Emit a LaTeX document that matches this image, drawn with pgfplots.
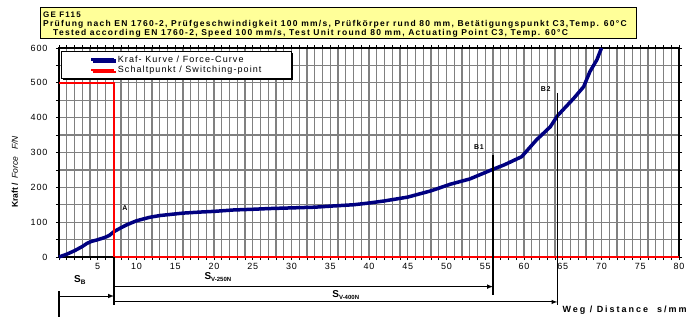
\documentclass[border=0pt]{standalone}
\usepackage{fontspec}
\setmainfont{Liberation Sans}
\newfontfamily\lsfont{Liberation Sans}[LetterSpace=10]
\newfontfamily\lgfont{Liberation Sans}[LetterSpace=12]
\newfontfamily\tsfont{Liberation Sans}[LetterSpace=15]
\newfontfamily\wsfont{Liberation Sans}[LetterSpace=22]
\usepackage{pgfplots}
\pgfplotsset{compat=1.18}
\usetikzlibrary{shadows}
\definecolor{curveblue}{RGB}{0,0,128}
\definecolor{titleyellow}{RGB}{255,255,153}
\definecolor{gridgray}{RGB}{128,128,128}

\pgfplotstableread{
x y
0 0
1 8
2 18
3 30
3.6 39
4.2 45
4.9 49
5.9 56
6.5 62
7.1 73
8 84
8.7 92
10 104
11.7 114
13 119
14.7 123
16 126
18.2 129
20 131
22.5 135
25 137
27 139
30 141
33 143
35 146
38 150
40 155
42 161
45 172
48 190
50.5 209
53 224
55.8 250
57.5 265
59.7 288
61.6 336
63.4 374
64.3 405
66.4 455
67.7 489
68.5 532
69.4 566
70 600
}\forcecurve

\pgfplotstableread{
x y
0 500
7.1 500
7.1 0
80 0
}\switchpoint

\begin{document}
\begin{tikzpicture}[x=1pt,y=1pt]
\useasboundingbox (0pt,0pt) rectangle (698pt,317pt);
\draw[line width=0.9pt, fill=titleyellow] (40pt,279pt) rectangle (636pt,310pt);
\node[anchor=west, inner sep=0] at (43pt,302pt) {\fontsize{8}{9}\selectfont\tsfont\bfseries GE F115};
\node[anchor=west, inner sep=0] at (43pt,292.5pt) {\fontsize{8.5}{9}\selectfont\tsfont\bfseries Prüfung nach EN 1760-2, Prüfgeschwindigkeit 100 mm/s, Prüfkörper rund 80 mm, Betätigungspunkt C3,Temp. 60°C};
\node[anchor=west, inner sep=0] at (53pt,283.5pt) {\fontsize{8.5}{9}\selectfont\tsfont\bfseries Tested according EN 1760-2, Speed 100 mm/s, Test Unit round 80 mm, Actuating Point C3, Temp. 60°C};

\begin{axis}[
  at={(59pt,60pt)}, anchor=south west, scale only axis, width=620pt, height=209pt,
  xmin=0, xmax=80, ymin=0, ymax=600,
  xtick={0,5,...,80}, xticklabels={,5,10,15,20,25,30,35,40,45,50,55,60,65,70,75,80},
  minor x tick num=4,
  ytick={0,50,...,600}, yticklabels={0,,100,,200,,300,,400,,500,,600},
  grid=both,
  major grid style={gridgray, line width=1.3pt},
  minor grid style={gridgray, line width=1.3pt},
  tick align=outside, major tick length=3pt, minor tick length=3pt,
  tick style={black, line width=0.8pt},
  axis line style={black, line width=1.6pt},
  clip=false,
  ticklabel style={font=\fontsize{9}{10}\selectfont\lsfont},
  /pgf/number format/assume math mode=true,
  yticklabel style={xshift=-5pt},
  legend style={at={(axis cs:0.26,591)}, anchor=north west, draw=black, line width=0.7pt, fill=white,
    inner xsep=28pt, inner ysep=2pt, row sep=-1.5pt,
    drop shadow={shadow xshift=1.6pt, shadow yshift=-1.6pt, opacity=1, fill=black},
    font=\fontsize{9}{10}\selectfont\lgfont, cells={anchor=west}},
  legend image code/.code={\draw[#1] (0pt,0pt) -- (23pt,0pt);},
]
\addplot[curveblue, line width=3.5pt, line join=round] table[x=x,y=y]{\forcecurve};
\addlegendentry{Kraf- Kurve / Force-Curve}
\addplot[red, line width=2pt] table[x=x,y=y]{\switchpoint};
\addlegendentry{Schaltpunkt / Switching-point}

\draw[black, line width=1.2pt] (axis cs:7.1,0) -- (axis cs:7.1,-138);
\draw[black, line width=1pt, -latex] (axis cs:7.1,-85) -- (axis cs:56,-85);
\draw[black, line width=1pt, -latex] (axis cs:7.1,-129) -- (axis cs:64.3,-129);
\draw[black, line width=1pt, -latex] (axis cs:0,-112) -- (axis cs:7.1,-112);
\draw[black, line width=1.2pt] (axis cs:0,-98) -- (axis cs:0,-172);
\draw[black, line width=1.2pt] (axis cs:56,293) -- (axis cs:56,-109);
\draw[black, line width=1.2pt] (axis cs:64.3,471) -- (axis cs:64.3,-138);

\node[font=\fontsize{7}{8}\selectfont\lsfont\bfseries] at (axis cs:8.5,141) {A};
\node[font=\fontsize{7}{8}\selectfont\lsfont\bfseries] at (axis cs:54.2,316) {B1};
\node[font=\fontsize{7}{8}\selectfont\lsfont\bfseries] at (axis cs:62.8,482) {B2};

\node[font=\fontsize{10}{11}\selectfont\bfseries] at (axis cs:2.7,-66) {S\raisebox{-2pt}{\fontsize{6.5}{7}\selectfont B}};
\node[font=\fontsize{10}{11}\selectfont\bfseries] at (axis cs:20.5,-57) {S\raisebox{-2pt}{\fontsize{6}{7}\selectfont V-250N}};
\node[font=\fontsize{10}{11}\selectfont\bfseries] at (axis cs:37,-109) {S\raisebox{-2pt}{\fontsize{6}{7}\selectfont V-400N}};

\node[anchor=east, inner sep=0, font=\fontsize{9}{10}\selectfont\wsfont\bfseries] at (axis cs:81,-152) {Weg / Distance\ \ s/mm};

\node[rotate=90, inner sep=0, font=\fontsize{8.5}{9}\selectfont] at (axis cs:-5.7,244) {\textbf{Kraft /}\ \ \textit{Force}\ \ \ \textit{F/N}};
\end{axis}
\end{tikzpicture}
\end{document}
